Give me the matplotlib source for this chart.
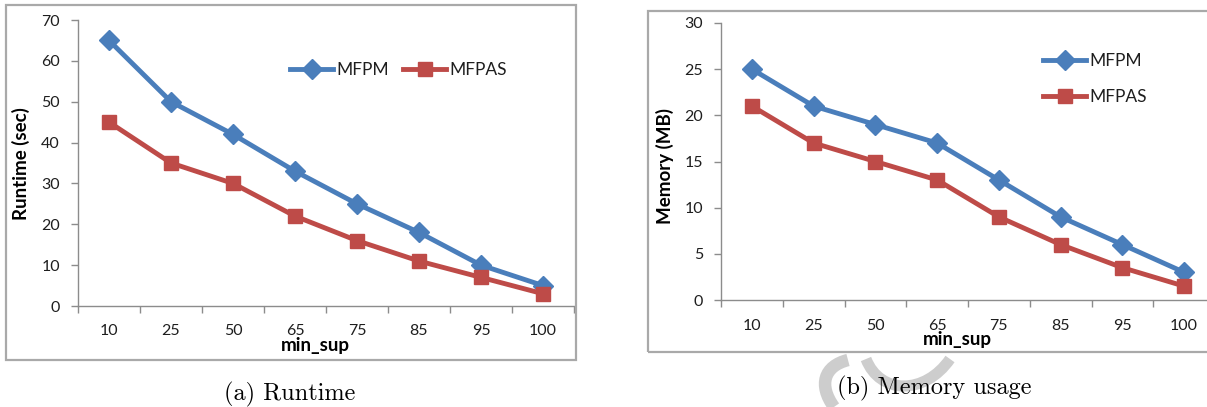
import matplotlib
matplotlib.use("Agg")
import matplotlib.pyplot as plt
from matplotlib.patches import Rectangle, PathPatch
from matplotlib.path import Path
import numpy as np

W, H = 1207, 407
DPI = 100

categories = ["10", "25", "50", "65", "75", "85", "95", "100"]
runtime_mfpm = [65, 50, 42, 33, 25, 18, 10, 5]
runtime_mfpas = [45, 35, 30, 22, 16, 11, 7, 3]
memory_mfpm = [25, 21, 19, 17, 13, 9, 6, 3]
memory_mfpas = [21, 17, 15, 13, 9, 6, 3.5, 1.5]

BLUE = "#4a7ebb"
RED = "#be4b48"
SPINE = "#8c8c8c"
FRAME = "#a9a9a9"
TXT = "#1e1e1e"
FONT = "Lato"
FS = 11.5      # tick labels
LFS = 12.5     # legend
TFS = 13.5     # axis titles
CFS = 17.5     # captions
LW = 3.5
MS_D = 10
MS_S = 10.5

plt.rcParams["font.family"] = [FONT, "DejaVu Sans"]

fig = plt.figure(figsize=(W / DPI, H / DPI), dpi=DPI)


def fx(x):
    return x / W


def fy(y):
    return 1 - y / H


def px_axes(x0, x1, ytop, ybot):
    return fig.add_axes([fx(x0), fy(ybot), (x1 - x0) / W, (ybot - ytop) / H])


def frame(x0, y0, x1, y1):
    fig.add_artist(Rectangle((fx(x0), fy(y1)), (x1 - x0) / W, (y1 - y0) / H,
                             transform=fig.transFigure, fill=False, ec=FRAME, lw=1.6,
                             clip_on=False))


def style(ax, ymax, ystep, xpad):
    n = len(categories)
    x = np.arange(n)
    ax.set_xlim(-0.5, n - 0.5)
    ax.set_ylim(0, ymax)
    for s in ["top", "right"]:
        ax.spines[s].set_visible(False)
    for s in ["left", "bottom"]:
        ax.spines[s].set_color(SPINE)
        ax.spines[s].set_linewidth(1.0)
    ax.set_xticks(np.arange(-0.5, n, 1.0))
    ax.set_xticklabels([])
    ax.set_xticks(x, minor=True)
    ax.set_xticklabels(categories, minor=True)
    ax.tick_params(axis="x", which="major", direction="out", length=5, color=SPINE, width=1.0)
    ax.tick_params(axis="x", which="minor", length=0, pad=xpad, labelsize=FS, labelcolor=TXT)
    ax.set_yticks(np.arange(0, ymax + 0.1, ystep))
    ax.tick_params(axis="y", direction="out", length=5, color=SPINE, width=1.0,
                   pad=8, labelsize=FS, labelcolor=TXT)
    return x


# ---------- faint watermark strokes ----------
wm = dict(transform=fig.transFigure, fill=False, ec="#cdcdcd", capstyle="butt",
          zorder=0.5)
p1 = Path([(fx(834), fy(407)), (fx(818), fy(385)), (fx(824), fy(366)), (fx(848), fy(360))],
          [Path.MOVETO, Path.CURVE4, Path.CURVE4, Path.CURVE4])
fig.add_artist(PathPatch(p1, lw=9, **wm))
p2 = Path([(fx(866), fy(359)), (fx(880), fy(395)), (fx(925), fy(395)), (fx(950), fy(359))],
          [Path.MOVETO, Path.CURVE4, Path.CURVE4, Path.CURVE4])
fig.add_artist(PathPatch(p2, lw=8, **wm))

# ---------- left panel: runtime ----------
frame(6, 5, 576, 360)
ax1 = px_axes(78, 574, 20, 306)
x = style(ax1, 70, 10, 13)
ax1.plot(x, runtime_mfpm, color=BLUE, lw=LW, marker="D", ms=MS_D, label="MFPM",
         clip_on=False, zorder=3)
ax1.plot(x, runtime_mfpas, color=RED, lw=LW, marker="s", ms=MS_S, label="MFPAS",
         clip_on=False, zorder=3)
hl = 31 / LFS
ax1.legend(loc="center left", bbox_to_anchor=(fx(290), fy(70)),
           bbox_transform=fig.transFigure, ncol=2, frameon=False, fontsize=LFS,
           borderpad=0, borderaxespad=0, handlelength=hl, handletextpad=0.2,
           columnspacing=0.8, labelcolor=TXT, numpoints=1)
fig.text(fx(21), fy(164), "Runtime (sec)", rotation=90, ha="center", va="center",
         fontsize=TFS, fontweight="bold", color="black")
fig.text(fx(315), fy(346), "min_sup", ha="center", va="center",
         fontsize=TFS, fontweight="bold", color="black")
fig.text(fx(290), fy(394), "(a) Runtime", ha="center", va="center",
         fontsize=CFS, family=["cmr10", "DejaVu Serif"], color="black")

# ---------- right panel: memory ----------
frame(648, 11, 1240, 352)
ax2 = px_axes(721, 1215, 23, 300)
x = style(ax2, 30, 5, 13.5)
ax2.plot(x, memory_mfpm, color=BLUE, lw=LW, marker="D", ms=MS_D, label="MFPM",
         clip_on=False, zorder=3)
ax2.plot(x, memory_mfpas, color=RED, lw=LW, marker="s", ms=MS_S, label="MFPAS",
         clip_on=False, zorder=3)
ax2.legend(loc="upper left", bbox_to_anchor=(fx(1043), fy(53)),
           bbox_transform=fig.transFigure, ncol=1, frameon=False, fontsize=LFS,
           borderpad=0, borderaxespad=0, handlelength=hl, handletextpad=0.2,
           labelspacing=1.15, labelcolor=TXT, numpoints=1)
fig.text(fx(665), fy(166), "Memory (MB)", rotation=90, ha="center", va="center",
         fontsize=TFS, fontweight="bold", color="black")
fig.text(fx(957), fy(339), "min_sup", ha="center", va="center",
         fontsize=TFS, fontweight="bold", color="black")
fig.text(fx(934), fy(388), "(b) Memory usage", ha="center", va="center",
         fontsize=CFS, family=["cmr10", "DejaVu Serif"], color="black", zorder=2)

fig.savefig("out.png", dpi=DPI)
